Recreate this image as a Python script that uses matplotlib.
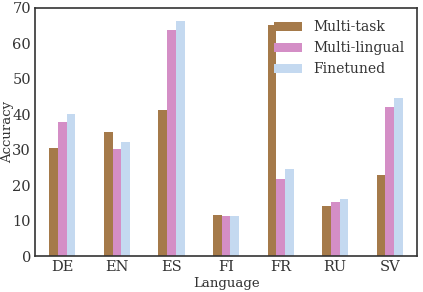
import numpy as np
import matplotlib
matplotlib.use("Agg")
import matplotlib.pyplot as plt

languages = ["DE", "EN", "ES", "FI", "FR", "RU", "SV"]
multi_task = [30.6, 35.0, 41.1, 11.7, 65.3, 14.1, 23.0]
multi_lingual = [37.8, 30.1, 63.9, 11.2, 21.8, 15.2, 42.1]
finetuned = [40.2, 32.1, 66.4, 11.3, 24.5, 16.2, 44.7]

plt.rcParams["font.family"] = "DejaVu Serif"
plt.rcParams["text.color"] = "#333333"
plt.rcParams["axes.labelcolor"] = "#333333"
plt.rcParams["xtick.color"] = "#333333"
plt.rcParams["ytick.color"] = "#333333"

fig = plt.figure(figsize=(4.23, 2.92), dpi=100)
ax = fig.add_axes([0.083, 0.123, 0.903, 0.850])

x = np.arange(len(languages))
w = 0.16
ax.bar(x - w, multi_task, w, color="#a57a4a", label="Multi-task")
ax.bar(x, multi_lingual, w, color="#d48ec6", label="Multi-lingual")
ax.bar(x + w, finetuned, w, color="#c4d9f0", label="Finetuned")

ax.set_xlim(-0.5, 6.5)
ax.set_ylim(0, 70)
ax.set_xticks(x)
ax.set_xticklabels(languages)
ax.set_yticks(range(0, 71, 10))
ax.tick_params(length=0, labelsize=10.5, pad=3)
ax.set_xlabel("Language", fontsize=9.5, labelpad=2)
ax.set_ylabel("Accuracy", fontsize=9.5)
ax.yaxis.set_label_coords(-0.056, 0.5)
for s in ax.spines.values():
    s.set_color("#333333")
    s.set_linewidth(1.2)

ax.legend(loc="upper right", frameon=False, fontsize=10, handlelength=2.0,
          borderaxespad=0.5, labelspacing=0.5, handletextpad=0.8)

fig.savefig("out.png", dpi=100)
